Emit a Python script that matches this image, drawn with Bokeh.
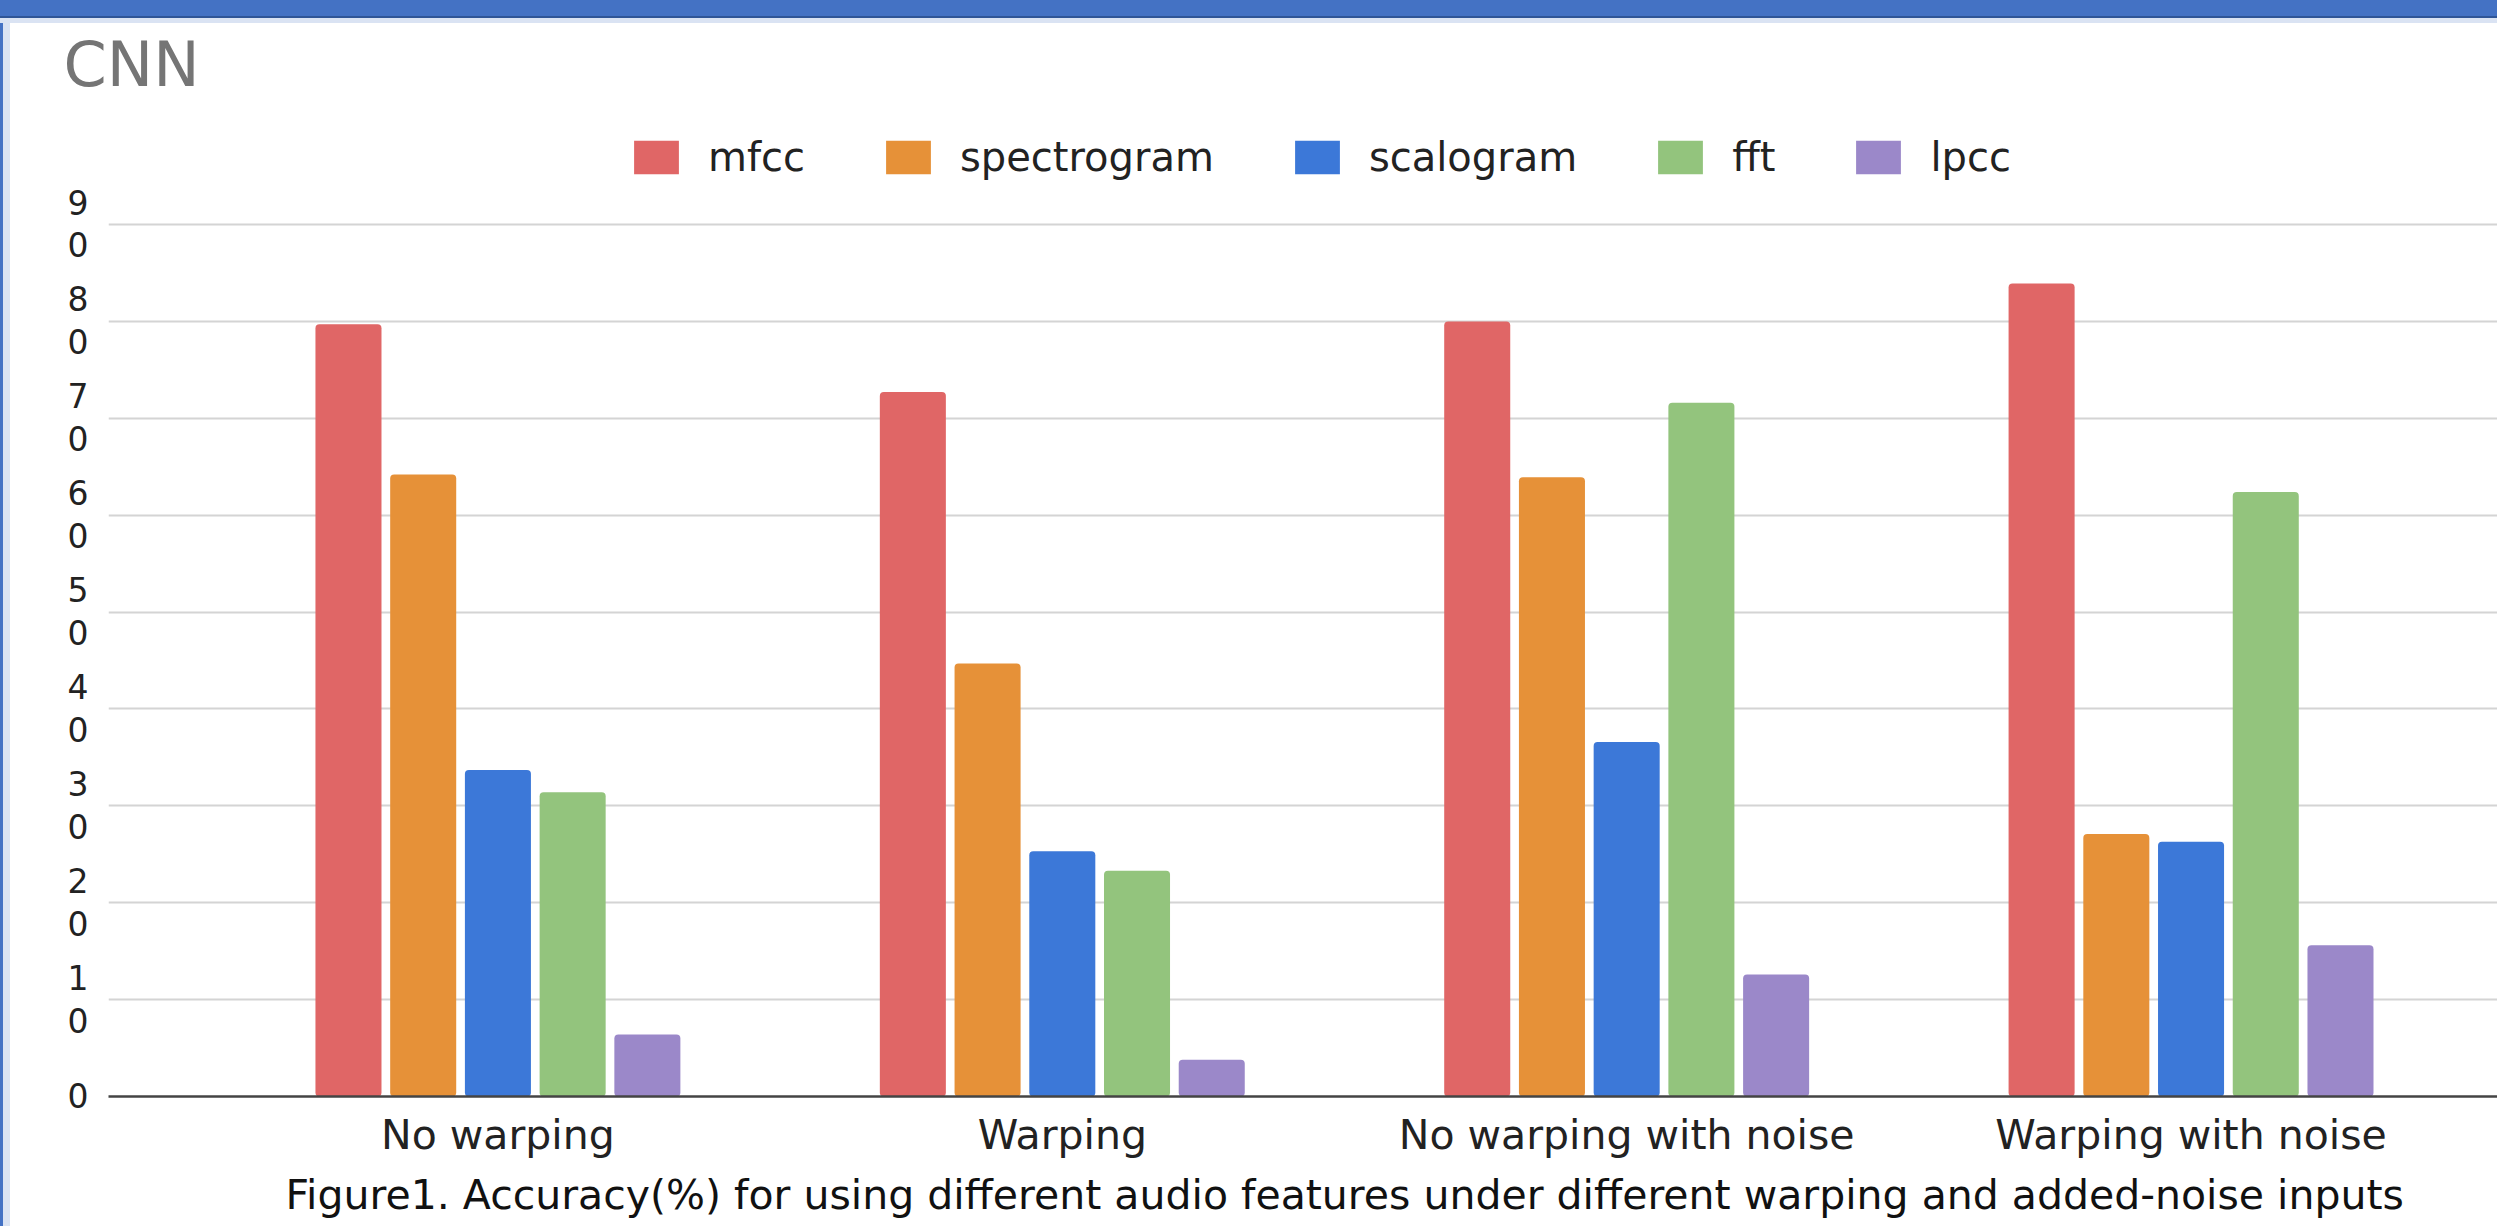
from bokeh.plotting import figure
from bokeh.models import (ColumnDataSource, Range1d, FixedTicker, Legend, LegendItem,
                          Title, Div)
from bokeh.layouts import column, row
from bokeh.transform import dodge
from bokeh.embed import file_html
from bokeh.resources import INLINE

# ---------------- data ----------------
categories = ["No warping", "Warping", "No warping with noise", "Warping with noise"]
series_names = ["mfcc", "spectrogram", "scalogram", "fft", "lpcc"]
mfcc = [79.7, 72.7, 80.0, 83.9]
spectrogram = [64.2, 44.7, 63.9, 27.1]
scalogram = [33.7, 25.3, 36.6, 26.3]
fft = [31.4, 23.3, 71.6, 62.4]
lpcc = [6.4, 3.8, 12.6, 15.6]
y_ticks = [0, 10, 20, 30, 40, 50, 60, 70, 80, 90]
y_tick_labels = ["0", "1\n0", "2\n0", "3\n0", "4\n0", "5\n0", "6\n0", "7\n0", "8\n0", "9\n0"]
chart_title = "CNN"
caption = ("Figure1. Accuracy(%) for using different audio features under different "
           "warping and added-noise inputs")

colors = ["#e06666", "#e69138", "#3c78d8", "#93c47d", "#9b88c9"]
FONT = "DejaVu Sans"

# ---------------- geometry ----------------
FIG_TOP = 23          # page y where figure starts
FIG_W, FIG_H = 2487, 1226 - FIG_TOP
ZERO_Y = 1097         # page y of value 0
PX_PER_UNIT = 9.689
FRAME_TOP_GUESS = FIG_TOP + 80
y_end = (ZERO_Y - FRAME_TOP_GUESS) / PX_PER_UNIT

source = ColumnDataSource(dict(idx=list(range(len(categories))), mfcc=mfcc,
                               spectrogram=spectrogram, scalogram=scalogram,
                               fft=fft, lpcc=lpcc))

p = figure(width=FIG_W, height=FIG_H, x_range=Range1d(-0.690, 3.543), y_range=Range1d(0, y_end),
           output_backend="svg", toolbar_location=None,
           min_border_left=98, min_border_right=0, min_border_top=0,
           min_border_bottom=FIG_TOP + FIG_H - ZERO_Y)
p.title.text = chart_title
p.title.align = "left"
p.title.offset = -45
p.title.standoff = 4
p.title.text_font = FONT
p.title.text_font_size = "62px"
p.title.text_font_style = "normal"
p.title.text_color = "#757575"

p.outline_line_color = None
p.background_fill_color = "white"
p.border_fill_color = "white"
p.xgrid.visible = False
p.ygrid.grid_line_color = "#d4d4d4"
p.ygrid.grid_line_width = 2

# y axis
p.yaxis.ticker = FixedTicker(ticks=y_ticks)
p.yaxis.major_label_overrides = {t: l for t, l in zip(y_ticks, y_tick_labels)}
p.yaxis.axis_line_color = None
p.yaxis.major_tick_line_color = None
p.yaxis.minor_tick_line_color = None
p.yaxis.major_label_text_font = FONT
p.yaxis.major_label_text_font_size = "33px"
p.yaxis.major_label_text_color = "#222222"
p.yaxis.major_label_text_line_height = 1.1
p.yaxis.major_label_standoff = 14

# x axis
p.xaxis.ticker = FixedTicker(ticks=list(range(len(categories))))
p.xaxis.major_label_overrides = {i: c for i, c in enumerate(categories)}
p.xaxis.axis_line_color = "#444444"
p.xaxis.axis_line_width = 2.5
p.xaxis.major_tick_line_color = None
p.xaxis.minor_tick_line_color = None
p.xaxis.major_label_text_font = FONT
p.xaxis.major_label_text_font_size = "41px"
p.xaxis.major_label_text_color = "#222222"
p.xaxis.major_label_standoff = 8

step = 0.1324
bw = 0.117
renderers = []
for j, name in enumerate(series_names):
    r = p.vbar(x=dodge("idx", (j - 2) * step, range=p.x_range), top=name, width=bw,
               bottom=0, source=source, fill_color=colors[j], line_color=None,
               border_radius=4)
    renderers.append(r)

legend = Legend(items=[LegendItem(label=n, renderers=[r]) for n, r in zip(series_names, renderers)],
                orientation="horizontal", location=(520, 916),
                glyph_width=56, glyph_height=42, label_standoff=24, spacing=75,
                padding=0, margin=0, border_line_color=None, background_fill_alpha=0,
                label_text_font=FONT, label_text_font_size="40px",
                label_text_color="#222222", label_height=42)
p.add_layout(legend, "center")

p.add_layout(Title(text=caption, align="left", offset=177, standoff=15,
                   text_font=FONT, text_font_size="41px", text_font_style="normal",
                   text_color="#111111"), "below")

top_blue = Div(text="", width=2497, height=16, margin=0, styles={"background-color": "#4472c4"})
top_dark = Div(text="", width=2497, height=2, margin=0, styles={"background-color": "#2f5597"})
top_light = Div(text="", width=2497, height=FIG_TOP - 18, margin=0,
                styles={"background-color": "#dae3f3"})
left_blue = Div(text="", width=3, height=FIG_H, margin=0, styles={"background-color": "#4472c4"})
left_light = Div(text="", width=7, height=FIG_H, margin=0, styles={"background-color": "#dae3f3"})

layout = column(top_blue, top_dark, top_light, row(left_blue, left_light, p, spacing=0), spacing=0)

open("out.html", "w").write(file_html(layout, INLINE))
